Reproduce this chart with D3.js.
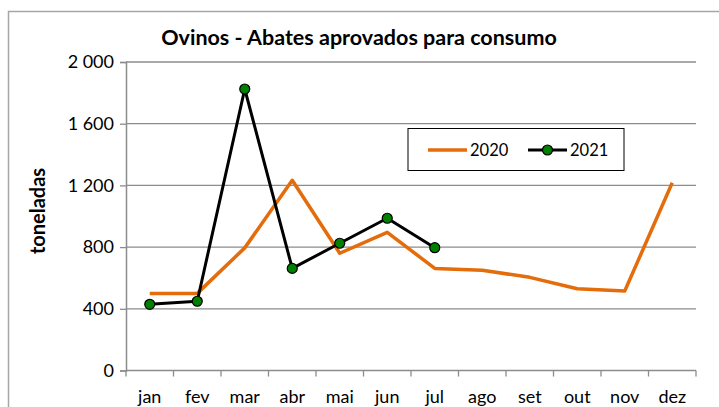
<!DOCTYPE html>
<html>
<head>
<meta charset="utf-8">
<script src="https://cdn.jsdelivr.net/npm/d3@7"></script>
<style>
  body { margin: 0; background: #fff; }
  svg { display: block; font-family: Lato, "Open Sans", sans-serif; }
</style>
</head>
<body>
<script>
// data
var months = ["jan", "fev", "mar", "abr", "mai", "jun", "jul", "ago", "set", "out", "nov", "dez"];
var values2020 = [500, 500, 795, 1233, 760, 896, 662, 650, 604, 530, 515, 1217];
var values2021 = [429, 449, 1825, 662, 825, 987, 796];
var yTicks = [0, 400, 800, 1200, 1600, 2000];
var seriesNames = ["2020", "2021"];

var W = 719, H = 407;
var margin = {top: 62, right: 23, bottom: 36.5, left: 126};
var width = W - margin.left - margin.right,
    height = H - margin.top - margin.bottom;

var svg = d3.select("body").append("svg")
    .attr("width", W)
    .attr("height", H);

// outer chart border
svg.append("rect")
  .attr("x", 8.5).attr("y", 11.5)
  .attr("width", W + 10).attr("height", H + 10)
  .attr("fill", "none")
  .attr("stroke", "#a6a6a6")
  .attr("stroke-width", 1.5);

var g = svg.append("g")
  .attr("transform", "translate(" + margin.left + "," + margin.top + ")");

var x = d3.scaleBand().domain(months).range([0, width]);
var y = d3.scaleLinear().domain([0, 2000]).range([height, 0]);

// gridlines
g.selectAll(".grid")
  .data(yTicks.slice(1))
  .enter().append("line")
  .attr("class", "grid")
  .attr("x1", 0).attr("x2", width)
  .attr("y1", function(d) { return y(d); })
  .attr("y2", function(d) { return y(d); })
  .attr("stroke", "#8c8c8c")
  .attr("stroke-width", 1.3);

// Y axis
var yAxis = g.append("g")
  .call(d3.axisLeft(y).tickValues(yTicks).tickSize(6).tickPadding(6)
    .tickFormat(function(d) { return d3.format(",")(d).replace(",", " "); }));
yAxis.select(".domain").attr("stroke", "#8c8c8c").attr("stroke-width", 1.5);
yAxis.selectAll(".tick line").attr("stroke", "#8c8c8c").attr("stroke-width", 1.3);
yAxis.selectAll("text").attr("font-size", 18).attr("fill", "#000")
  .style("font-family", "Lato");

// X axis, ticks between categories
var xAxis = g.append("g")
  .attr("transform", "translate(0," + height + ")");
xAxis.append("line")
  .attr("x1", 0).attr("x2", width)
  .attr("stroke", "#8c8c8c").attr("stroke-width", 1.5);
xAxis.selectAll(".xt")
  .data(months.concat(["end"]))
  .enter().append("line")
  .attr("x1", function(d, i) { return i * x.step(); })
  .attr("x2", function(d, i) { return i * x.step(); })
  .attr("y1", 0).attr("y2", 6)
  .attr("stroke", "#8c8c8c").attr("stroke-width", 1.3);
xAxis.selectAll(".xl")
  .data(months)
  .enter().append("text")
  .attr("x", function(d) { return x(d) + x.bandwidth() / 2; })
  .attr("y", 32)
  .attr("text-anchor", "middle")
  .attr("font-size", 18)
  .text(function(d) { return d; });

var line = d3.line()
  .x(function(d, i) { return x(months[i]) + x.bandwidth() / 2; })
  .y(function(d) { return y(d); });

g.append("path")
  .attr("d", line(values2020))
  .attr("fill", "none")
  .attr("stroke", "#e46c0a")
  .attr("stroke-width", 3.5)
  .attr("stroke-linejoin", "round");

g.append("path")
  .attr("d", line(values2021))
  .attr("fill", "none")
  .attr("stroke", "#000")
  .attr("stroke-width", 3)
  .attr("stroke-linejoin", "round");

g.selectAll(".dot")
  .data(values2021)
  .enter().append("circle")
  .attr("cx", function(d, i) { return x(months[i]) + x.bandwidth() / 2; })
  .attr("cy", function(d) { return y(d); })
  .attr("r", 5)
  .attr("fill", "#008000")
  .attr("stroke", "#000")
  .attr("stroke-width", 1.2);

// title
svg.append("text")
  .attr("x", 359).attr("y", 45)
  .attr("text-anchor", "middle")
  .attr("font-size", 21.5)
  .attr("font-weight", "bold")
  .text("Ovinos - Abates aprovados para consumo");

// y label
svg.append("text")
  .attr("transform", "translate(45,211) rotate(-90)")
  .attr("text-anchor", "middle")
  .attr("font-size", 20)
  .attr("font-weight", "bold")
  .text("toneladas");

// legend
var legend = svg.append("g").attr("transform", "translate(408,128.5)");
legend.append("rect")
  .attr("width", 216).attr("height", 42)
  .attr("fill", "#fff").attr("stroke", "#000").attr("stroke-width", 1);
legend.append("line")
  .attr("x1", 20).attr("x2", 59).attr("y1", 21.5).attr("y2", 21.5)
  .attr("stroke", "#e46c0a").attr("stroke-width", 3.5);
legend.append("text")
  .attr("x", 62).attr("y", 27.5).attr("font-size", 16.5)
  .text(seriesNames[0]);
legend.append("line")
  .attr("x1", 120).attr("x2", 159).attr("y1", 21.5).attr("y2", 21.5)
  .attr("stroke", "#000").attr("stroke-width", 3);
legend.append("circle")
  .attr("cx", 139.5).attr("cy", 21.5).attr("r", 5)
  .attr("fill", "#008000").attr("stroke", "#000").attr("stroke-width", 1.2);
legend.append("text")
  .attr("x", 162).attr("y", 27.5).attr("font-size", 16.5)
  .text(seriesNames[1]);
</script>
</body>
</html>
